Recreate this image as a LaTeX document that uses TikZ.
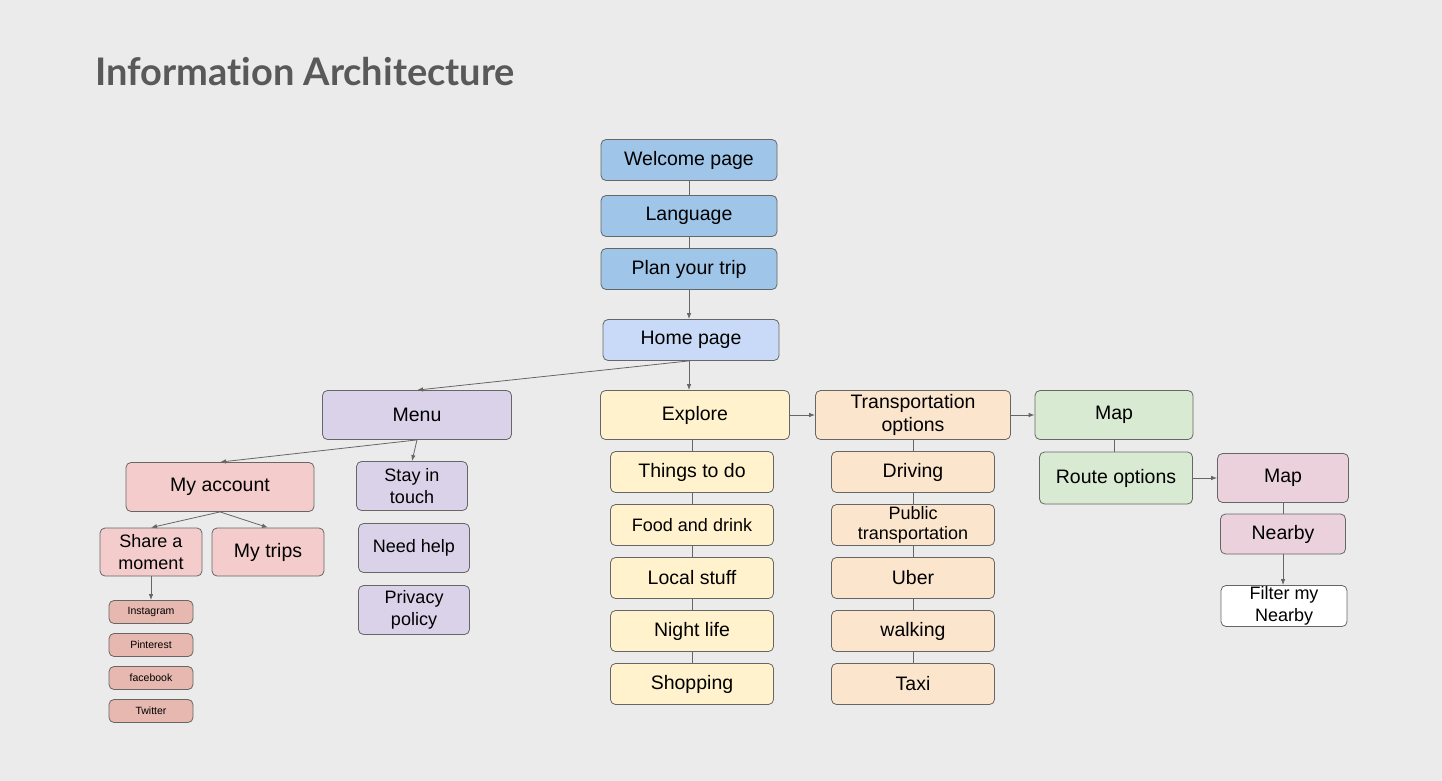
\documentclass[tikz,border=0pt]{standalone}
\usepackage{fontspec}
\setmainfont{Liberation Sans}
\newfontfamily\titlefont[Ligatures=NoCommon]{Lato}
\usetikzlibrary{arrows.meta}
\definecolor{bggray}{HTML}{EBEBEB}
\definecolor{edgegray}{HTML}{666666}
\definecolor{titlegray}{HTML}{595959}
\definecolor{startblue}{HTML}{9FC5E8}
\definecolor{homeblue}{HTML}{C9DAF8}
\definecolor{menupurple}{HTML}{D9D2E9}
\definecolor{accountred}{HTML}{F4CCCC}
\definecolor{socialred}{HTML}{E6B8AF}
\definecolor{exploreyellow}{HTML}{FFF2CC}
\definecolor{transorange}{HTML}{FCE5CD}
\definecolor{mapgreen}{HTML}{D9EAD3}
\definecolor{mappink}{HTML}{EAD1DC}

\begin{document}
\begin{tikzpicture}[x=1pt, y=-1pt,
  box/.style = {shape=rectangle, rounded corners=5pt, draw=edgegray,
    line width=0.8pt, align=center, inner sep=0pt,
    font=\fontsize{19.5}{23}\selectfont},
  small/.style = {font=\fontsize{18}{21.5}\selectfont},
  startbox/.style = {box, fill=startblue, minimum width=176pt, minimum height=41pt},
  menubox/.style = {box, fill=menupurple, minimum width=111pt, minimum height=49pt, small},
  acctbox/.style = {box, fill=accountred, minimum height=48pt},
  socialbox/.style = {box, fill=socialred, minimum width=84pt, minimum height=23pt,
    font=\fontsize{10.5}{12}\selectfont},
  topicbox/.style = {box, fill=exploreyellow, minimum width=163pt, minimum height=41pt},
  transbox/.style = {box, fill=transorange, minimum width=163pt, minimum height=41pt},
  link/.style = {draw=edgegray, line width=0.8pt},
  arrow/.style = {link, -{Latex[length=6pt,width=4.5pt]}}]

  \fill[bggray] (0,0) rectangle (1442,781);
  \useasboundingbox (0,0) rectangle (1442,781);

  \node[anchor=base west, text=titlegray, inner sep=0pt,
    font=\titlefont\bfseries\fontsize{38}{42}\selectfont] (title) at (95,86)
    {Information Architecture};

  \node[startbox] (welcome) at (689,160) {Welcome page};
  \node[startbox] (lang) at (689,216) {Language};
  \node[startbox] (plan) at (689,269) {Plan your trip};
  \node[startbox, fill=homeblue] (home) at (691,340) {Home page};

  \node[box, fill=menupurple, minimum width=189pt, minimum height=49pt] (menu) at (417,415) {Menu};
  \node[acctbox, minimum width=188pt, minimum height=49pt] (account) at (220,487) {My account};
  \node[menubox] (stay) at (412,486) {Stay in\\touch};
  \node[menubox] (help) at (414,548) {Need help};
  \node[menubox] (privacy) at (414,610) {Privacy\\policy};
  \node[acctbox, minimum width=102pt, small] (share) at (151,552) {Share a\\moment};
  \node[acctbox, minimum width=112pt] (trips) at (268,552) {My trips};
  \node[socialbox] (insta) at (151,612) {Instagram};
  \node[socialbox] (pin) at (151,645) {Pinterest};
  \node[socialbox] (fb) at (151,678) {facebook};
  \node[socialbox] (tw) at (151,711) {Twitter};

  \node[box, fill=exploreyellow, minimum width=189pt, minimum height=49pt] (explore) at (695,415) {Explore};
  \node[topicbox] (things) at (692,472) {Things to do};
  \node[topicbox, small] (food) at (692,525) {Food and drink};
  \node[topicbox] (local) at (692,578) {Local stuff};
  \node[topicbox] (night) at (692,631) {Night life};
  \node[topicbox] (shop) at (692,684) {Shopping};

  \node[box, fill=transorange, minimum width=195pt, minimum height=49pt] (trans) at (913,415) {Transportation\\options};
  \node[transbox] (drive) at (913,472) {Driving};
  \node[transbox, font=\fontsize{18}{20}\selectfont] (public) at (913,525) {Public\\transportation};
  \node[transbox] (uber) at (913,578) {Uber};
  \node[transbox] (walk) at (913,631) {walking};
  \node[transbox] (taxi) at (913,684) {Taxi};

  \node[box, fill=mapgreen, minimum width=158pt, minimum height=49pt] (map) at (1114,415) {Map};
  \node[box, fill=mapgreen, minimum width=153pt, minimum height=52pt] (route) at (1116,478) {Route options};
  \node[box, fill=mappink, minimum width=131pt, minimum height=49pt] (pinkmap) at (1283,478) {Map};
  \node[box, fill=mappink, minimum width=125pt, minimum height=40pt] (nearby) at (1283,534) {Nearby};
  \node[box, fill=white, minimum width=126pt, minimum height=41pt, small] (filter) at (1284,606) {Filter my\\Nearby};

  \draw[link] (welcome) -- (lang);
  \draw[link] (lang) -- (plan);
  \draw[arrow] (plan.south) -- (plan.south |- home.north);
  \draw[arrow] (plan.south |- home.south) -- (plan.south |- explore.north);
  \draw[arrow] (plan.south |- home.south) -- (menu.north);
  \draw[arrow] (menu.south) -- (account.north);
  \draw[arrow] (menu.south) -- (stay.north);
  \draw[arrow] (account.south) -- (share.north);
  \draw[arrow] (account.south) -- (trips.north);
  \draw[arrow] (share) -- (insta);
  \draw[link] (things.north |- explore.south) -- (things);
  \draw[link] (things) -- (food);
  \draw[link] (food) -- (local);
  \draw[link] (local) -- (night);
  \draw[link] (night) -- (shop);
  \draw[arrow] (explore) -- (trans);
  \draw[link] (trans) -- (drive);
  \draw[link] (drive) -- (public);
  \draw[link] (public) -- (uber);
  \draw[link] (uber) -- (walk);
  \draw[link] (walk) -- (taxi);
  \draw[arrow] (trans) -- (map);
  \draw[link] (map.south) -- (map.south |- route.north);
  \draw[arrow] (route) -- (pinkmap);
  \draw[link] (pinkmap) -- (nearby);
  \draw[arrow] (nearby.south) -- (nearby.south |- filter.north);
\end{tikzpicture}
\end{document}
